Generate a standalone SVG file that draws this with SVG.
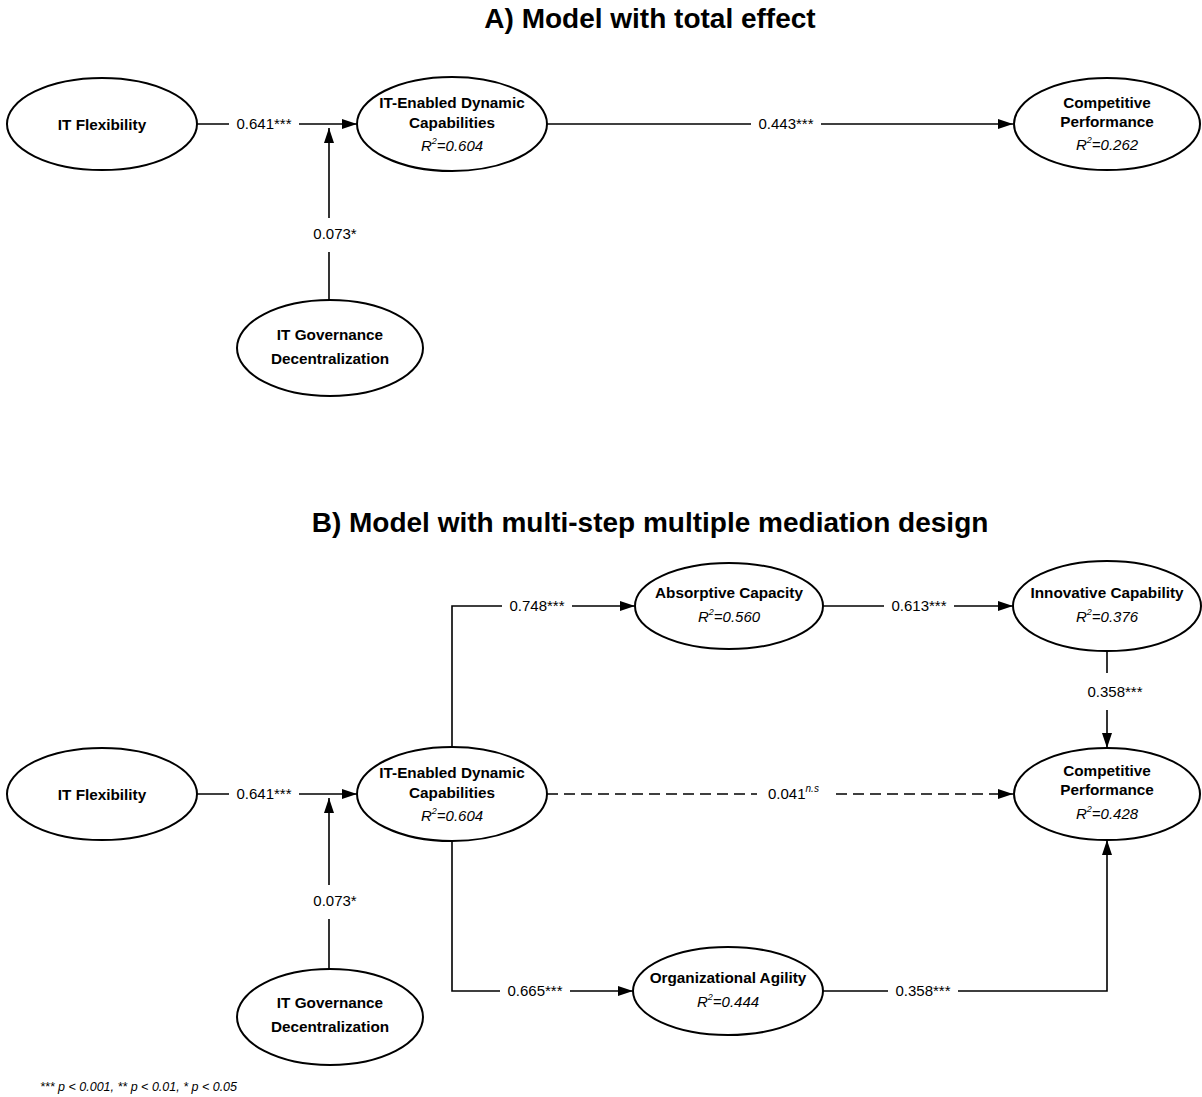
<svg xmlns="http://www.w3.org/2000/svg" width="1202" height="1097" viewBox="0 0 1202 1097">
  <style>
    .node ellipse { fill: #fff; stroke: #000; stroke-width: 2; }
    .nt { font-family: "Liberation Sans", Arial, sans-serif; font-weight: bold; font-size: 15.3px; text-anchor: middle; fill: #000; }
    .r2 { font-family: "Liberation Sans", Arial, sans-serif; font-style: italic; font-size: 15px; text-anchor: middle; fill: #000; }
    .title { font-family: "Liberation Sans", Arial, sans-serif; font-weight: bold; font-size: 28px; text-anchor: middle; fill: #000; }
    .edge { fill: none; stroke: #000; stroke-width: 1.6; }
    .dash { stroke-dasharray: 11 6; }
    .bg { fill: #fff; }
    .lbl { font-family: "Liberation Sans", Arial, sans-serif; font-size: 15px; text-anchor: middle; fill: #000; }
    .note { font-family: "Liberation Sans", Arial, sans-serif; font-style: italic; font-size: 12.5px; fill: #000; }
  </style>
  <defs>
    <marker id="arrow" markerUnits="userSpaceOnUse" markerWidth="16" markerHeight="11" refX="15" refY="5" orient="auto">
      <path d="M0,0 L15,5 L0,10 z" fill="#000"/>
    </marker>
  </defs>

  <rect width="1202" height="1097" fill="#fff"/>

  <!-- section titles -->
  <text class="title" x="650" y="28">A) Model with total effect</text>
  <text class="title" x="650" y="532">B) Model with multi-step multiple mediation design</text>

  <!-- connectors -->
  <g id="connectors">
    <!-- model A -->
    <path class="edge" d="M197,124 H357" marker-end="url(#arrow)"/>
    <path class="edge" d="M329,300 V128" marker-end="url(#arrow)"/>
    <path class="edge" d="M547,124 H1013" marker-end="url(#arrow)"/>
    <rect class="bg" x="229" y="114" width="70" height="20"/>
    <text class="lbl" x="264" y="129">0.641***</text>
    <rect class="bg" x="309" y="218" width="52" height="34"/>
    <text class="lbl" x="335" y="239">0.073*</text>
    <rect class="bg" x="751" y="114" width="70" height="20"/>
    <text class="lbl" x="786" y="129">0.443***</text>

    <!-- model B -->
    <path class="edge" d="M197,794 H357" marker-end="url(#arrow)"/>
    <path class="edge" d="M329,970 V798" marker-end="url(#arrow)"/>
    <path class="edge" d="M452,747 V606 H635" marker-end="url(#arrow)"/>
    <path class="edge" d="M823,606 H1013" marker-end="url(#arrow)"/>
    <path class="edge" d="M1107,651 V748" marker-end="url(#arrow)"/>
    <path class="edge dash" d="M547,794 H1013" marker-end="url(#arrow)"/>
    <path class="edge" d="M452,841 V991 H633" marker-end="url(#arrow)"/>
    <path class="edge" d="M823,991 H1107 V840" marker-end="url(#arrow)"/>

    <rect class="bg" x="229" y="784" width="70" height="20"/>
    <text class="lbl" x="264" y="799">0.641***</text>
    <rect class="bg" x="309" y="885" width="52" height="34"/>
    <text class="lbl" x="335" y="906">0.073*</text>
    <rect class="bg" x="502" y="596" width="70" height="20"/>
    <text class="lbl" x="537" y="611">0.748***</text>
    <rect class="bg" x="884" y="596" width="70" height="20"/>
    <text class="lbl" x="919" y="611">0.613***</text>
    <rect class="bg" x="1080" y="673" width="70" height="37"/>
    <text class="lbl" x="1115" y="697">0.358***</text>
    <rect class="bg" x="757" y="784" width="73" height="20"/>
    <text class="lbl" x="768" y="799" style="text-anchor:start">0.041<tspan font-size="10" font-style="italic" dy="-7">n.s</tspan></text>
    <rect class="bg" x="500" y="981" width="70" height="20"/>
    <text class="lbl" x="535" y="996">0.665***</text>
    <rect class="bg" x="888" y="981" width="70" height="20"/>
    <text class="lbl" x="923" y="996">0.358***</text>
  </g>

  <!-- model A nodes -->
  <g id="a_it_flexibility" class="node">
    <ellipse cx="102" cy="124" rx="95" ry="46"/>
    <text class="nt" x="102" y="130">IT Flexibility</text>
  </g>
  <g id="a_it_dynamic_capabilities" class="node">
    <ellipse cx="452" cy="124" rx="95" ry="47"/>
    <text class="nt" x="452" y="108">IT-Enabled Dynamic</text>
    <text class="nt" x="452" y="128">Capabilities</text>
    <text class="r2" x="452" y="151">R<tspan font-size="9" dy="-7">2</tspan><tspan dy="7">=0.604</tspan></text>
  </g>
  <g id="a_it_governance" class="node">
    <ellipse cx="330" cy="348" rx="93" ry="48"/>
    <text class="nt" x="330" y="340">IT Governance</text>
    <text class="nt" x="330" y="364">Decentralization</text>
  </g>
  <g id="a_competitive_performance" class="node">
    <ellipse cx="1107" cy="124" rx="93" ry="46"/>
    <text class="nt" x="1107" y="108">Competitive</text>
    <text class="nt" x="1107" y="127">Performance</text>
    <text class="r2" x="1107" y="150">R<tspan font-size="9" dy="-7">2</tspan><tspan dy="7">=0.262</tspan></text>
  </g>

  <!-- model B nodes -->
  <g id="b_it_flexibility" class="node">
    <ellipse cx="102" cy="794" rx="95" ry="46"/>
    <text class="nt" x="102" y="800">IT Flexibility</text>
  </g>
  <g id="b_it_dynamic_capabilities" class="node">
    <ellipse cx="452" cy="794" rx="95" ry="47"/>
    <text class="nt" x="452" y="778">IT-Enabled Dynamic</text>
    <text class="nt" x="452" y="798">Capabilities</text>
    <text class="r2" x="452" y="821">R<tspan font-size="9" dy="-7">2</tspan><tspan dy="7">=0.604</tspan></text>
  </g>
  <g id="b_it_governance" class="node">
    <ellipse cx="330" cy="1017" rx="93" ry="48"/>
    <text class="nt" x="330" y="1008">IT Governance</text>
    <text class="nt" x="330" y="1032">Decentralization</text>
  </g>
  <g id="b_absorptive_capacity" class="node">
    <ellipse cx="729" cy="606" rx="94" ry="43"/>
    <text class="nt" x="729" y="598">Absorptive Capacity</text>
    <text class="r2" x="729" y="622">R<tspan font-size="9" dy="-7">2</tspan><tspan dy="7">=0.560</tspan></text>
  </g>
  <g id="b_innovative_capability" class="node">
    <ellipse cx="1107" cy="606" rx="94" ry="45"/>
    <text class="nt" x="1107" y="598">Innovative Capability</text>
    <text class="r2" x="1107" y="622">R<tspan font-size="9" dy="-7">2</tspan><tspan dy="7">=0.376</tspan></text>
  </g>
  <g id="b_organizational_agility" class="node">
    <ellipse cx="728" cy="991" rx="95" ry="44"/>
    <text class="nt" x="728" y="983">Organizational Agility</text>
    <text class="r2" x="728" y="1007">R<tspan font-size="9" dy="-7">2</tspan><tspan dy="7">=0.444</tspan></text>
  </g>
  <g id="b_competitive_performance" class="node">
    <ellipse cx="1107" cy="794" rx="93" ry="46"/>
    <text class="nt" x="1107" y="776">Competitive</text>
    <text class="nt" x="1107" y="795">Performance</text>
    <text class="r2" x="1107" y="819">R<tspan font-size="9" dy="-7">2</tspan><tspan dy="7">=0.428</tspan></text>
  </g>

  <!-- significance legend -->
  <text class="note" x="40" y="1091">*** p &lt; 0.001, ** p &lt; 0.01, * p &lt; 0.05</text>
</svg>
